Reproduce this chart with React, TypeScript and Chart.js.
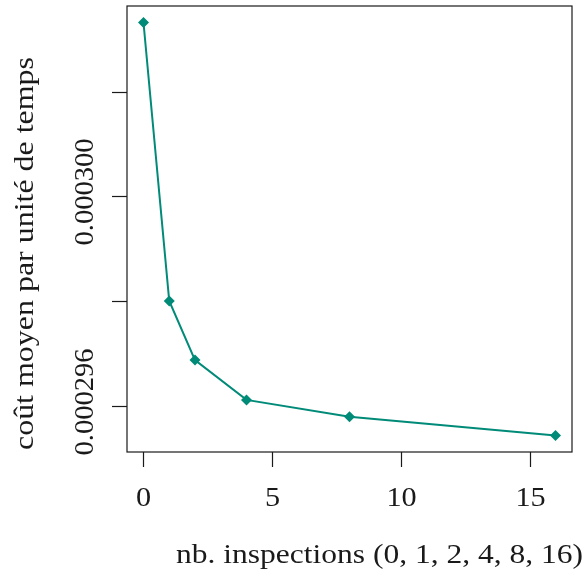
import React, { useEffect, useRef } from "react";
import { Chart, registerables } from "chart.js";

Chart.register(...registerables);

const inspections = [0, 1, 2, 4, 8, 16];
const cost = [0.00030332, 0.000298, 0.00029687, 0.00029611, 0.00029579, 0.00029543];
const xTicks = [0, 5, 10, 15];
const xTickLabels = ["0", "5", "10", "15"];
const yTicks = [0.000296, 0.000298, 0.0003, 0.000302];
const yTickLabels = ["0.000296", "", "0.000300", ""];
const xTitle = "nb. inspections (0, 1, 2, 4, 8, 16)";
const yTitle = "coût moyen par unité de temps";

const TICK_FONT = "28px 'Liberation Serif', serif";
const TITLE_FONT = "27px 'Liberation Serif', serif";
const INK = "#1a1a1a";
const TEAL = "#008a78";

// draw text stretched along its direction to a target width (mimic wider serif)
function stretchText(ctx: CanvasRenderingContext2D, text: string, target: number) {
  const w = ctx.measureText(text).width;
  const s = target / w;
  ctx.save();
  ctx.scale(s, 1);
  ctx.textAlign = "center";
  ctx.fillText(text, 0, 0);
  ctx.restore();
}

const axesPlugin = {
  id: "rAxes",
  afterDraw(chart: any) {
    const ctx = chart.ctx as CanvasRenderingContext2D;
    const a = chart.chartArea;
    const xs = chart.scales.x;
    const ys = chart.scales.y;
    ctx.save();
    ctx.strokeStyle = INK;
    ctx.lineWidth = 1.2;
    ctx.strokeRect(a.left, a.top, a.right - a.left, a.bottom - a.top);
    ctx.fillStyle = INK;
    ctx.font = TICK_FONT;
    ctx.textBaseline = "alphabetic";
    xTicks.forEach((v, i) => {
      const px = Math.round(xs.getPixelForValue(v)) + 0.5;
      ctx.beginPath();
      ctx.moveTo(px, a.bottom);
      ctx.lineTo(px, a.bottom + 15);
      ctx.stroke();
      ctx.save();
      ctx.translate(px, 506);
      const w = ctx.measureText(xTickLabels[i]).width;
      stretchText(ctx, xTickLabels[i], w * 1.08);
      ctx.restore();
    });
    yTicks.forEach((v, i) => {
      const py = Math.round(ys.getPixelForValue(v)) + 0.5;
      ctx.beginPath();
      ctx.moveTo(a.left - 15, py);
      ctx.lineTo(a.left, py);
      ctx.stroke();
      if (yTickLabels[i]) {
        ctx.save();
        ctx.translate(93, py - 4.5);
        ctx.rotate(-Math.PI / 2);
        stretchText(ctx, yTickLabels[i], 107);
        ctx.restore();
      }
    });
    ctx.font = TITLE_FONT;
    ctx.save();
    ctx.translate(379.5, 563);
    stretchText(ctx, xTitle, 407);
    ctx.restore();
    ctx.save();
    ctx.translate(33, 253.5);
    ctx.rotate(-Math.PI / 2);
    stretchText(ctx, yTitle, 393);
    ctx.restore();
    ctx.restore();
  },
};

export default function App() {
  const ref = useRef<HTMLCanvasElement | null>(null);
  useEffect(() => {
    if (!ref.current) return;
    const xmin = Math.min(...inspections);
    const xmax = Math.max(...inspections);
    const ymin = Math.min(...cost);
    const ymax = Math.max(...cost);
    const dx = (xmax - xmin) * 0.04;
    const dy = (ymax - ymin) * 0.04;
    const chart = new Chart(ref.current, {
      type: "line",
      data: {
        datasets: [
          {
            data: inspections.map((x, i) => ({ x, y: cost[i] })),
            borderColor: TEAL,
            backgroundColor: TEAL,
            borderWidth: 2,
            pointStyle: "rectRot",
            pointRadius: 5.5,
            pointBorderWidth: 0,
            tension: 0,
          },
        ],
      },
      options: {
        responsive: false,
        animation: false,
        layout: { padding: { left: 127, top: 6, right: 13, bottom: 124 } },
        plugins: { legend: { display: false }, tooltip: { enabled: false } },
        scales: {
          x: { type: "linear", min: xmin - dx, max: xmax + dx, display: false },
          y: { type: "linear", min: ymin - dy, max: ymax + dy, display: false },
        },
      },
      plugins: [axesPlugin],
    });
    return () => chart.destroy();
  }, []);
  return (
    <div style={{ position: "fixed", left: 0, top: 0, width: 585, height: 576, background: "#fff" }}>
      <canvas ref={ref} width={585} height={576} />
    </div>
  );
}
